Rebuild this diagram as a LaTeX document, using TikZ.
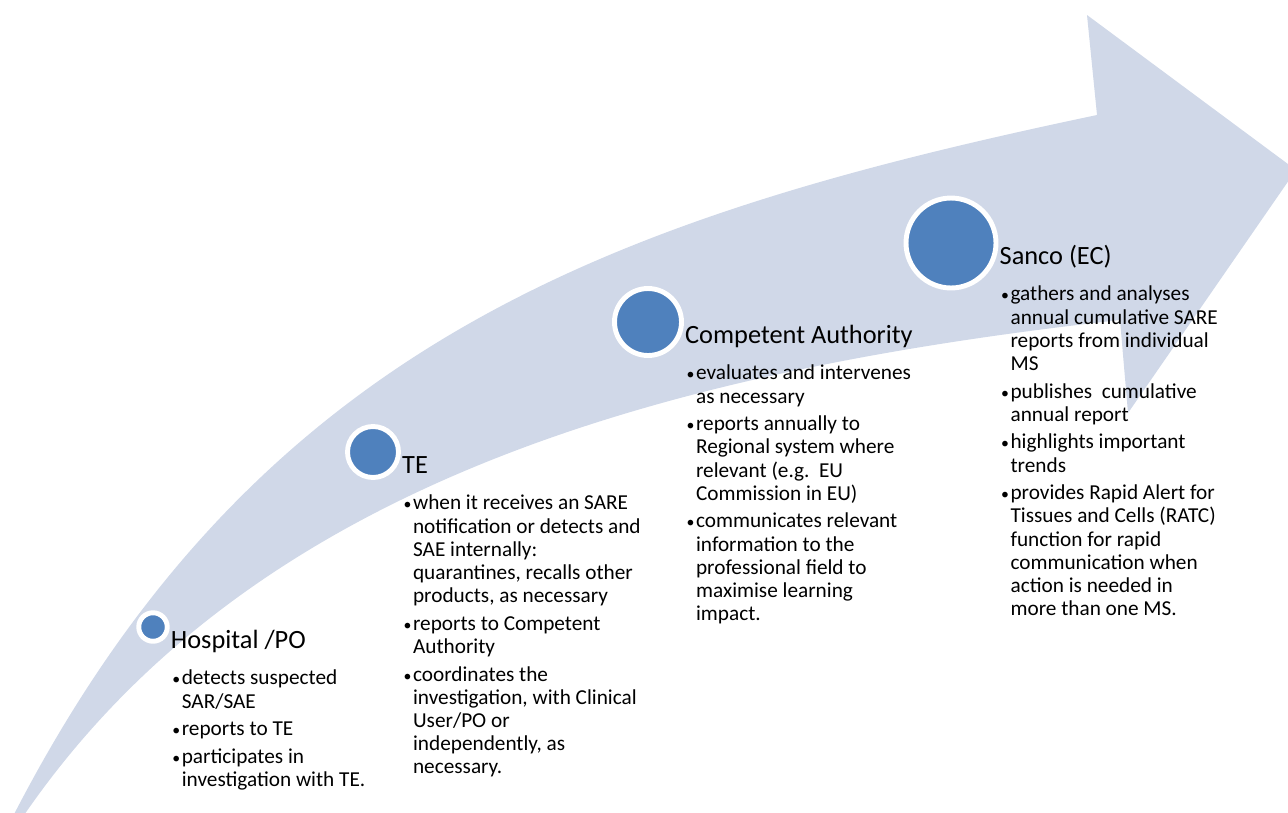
\documentclass[tikz,border=0pt]{standalone}
\usepackage{fontspec}
\setmainfont{Carlito}
\definecolor{arrowfill}{HTML}{D0D8E8}
\definecolor{dotfill}{HTML}{4F81BD}
\newcommand{\bul}{\makebox[5.7pt][l]{\hspace{0.3pt}\fontsize{9}{9}\selectfont\textbullet}}

\begin{document}
\begin{tikzpicture}[
    x=0.02cm, y=-0.02cm,
    dot/.style={circle, fill=dotfill, draw=white, line width=2.8pt, inner sep=0pt},
    stagetitle/.style={anchor=base west, inner sep=0pt, font=\fontsize{15}{18}\selectfont},
    stagetext/.style={anchor=base west, inner sep=0pt, font=\fontsize{12.1}{13.2}\selectfont}
]
    \useasboundingbox (0,0) rectangle (1288,812);

    % Curved arrow behind everything
    \begin{scope}
        \clip (0,0) rectangle (1288,812);
        \fill[arrowfill] (6,830) .. controls (250,345) and (607,218) .. (1097,115)
            -- (1087,15) -- (1296,170) -- (1128,413) -- (1120,320)
            .. controls (673,370) and (245,479) .. (14,830) -- cycle;
    \end{scope}

    % Stage dots
    \node[dot, minimum size=0.57cm] (hosp) at (153,627) {};
    \node[dot, minimum size=1.02cm] (te) at (373,452) {};
    \node[dot, minimum size=1.34cm] (ca) at (648,322) {};
    \node[dot, minimum size=1.8cm] (ec) at (951,243) {};

    % Stage names
    \node[stagetitle] (hospT) at ([xshift=0.5pt, yshift=-12.5pt]hosp.east) {Hospital /PO};
    \node[stagetitle] (teT) at ([xshift=0.5pt, yshift=-12.5pt]te.east) {TE};
    \node[stagetitle] (caT) at ([xshift=0.5pt, yshift=-12.5pt]ca.east) {Competent Authority};
    \node[stagetitle] (ecT) at ([xshift=0.5pt, yshift=-12.5pt]ec.east) {Sanco (EC)};

    % Tasks under each name
    \node[stagetext] (hospL) at ([xshift=0.5pt, yshift=-20.5pt]hospT.base west) {\begin{tabular}[t]{@{}l@{}l@{}}
        \bul & detects suspected\\ & SAR/SAE\\[2.5pt]
        \bul & reports to TE\\[2.5pt]
        \bul & participates in\\ & investigation with TE.
    \end{tabular}};
    \node[stagetext] (teL) at ([xshift=0.5pt, yshift=-20.5pt]teT.base west) {\begin{tabular}[t]{@{}l@{}l@{}}
        \bul & when it receives an SARE\\ & notification or detects and\\ & SAE internally:\\ & quarantines, recalls other\\ & products, as necessary\\[2.5pt]
        \bul & reports to Competent\\ & Authority\\[2.5pt]
        \bul & coordinates the\\ & investigation, with Clinical\\ & User/PO or\\ & independently, as\\ & necessary.
    \end{tabular}};
    \node[stagetext] (caL) at ([xshift=0.5pt, yshift=-20.5pt]caT.base west) {\begin{tabular}[t]{@{}l@{}l@{}}
        \bul & evaluates and intervenes\\ & as necessary\\[2.5pt]
        \bul & reports annually to\\ & Regional system where\\ & relevant (e.g.\ \ EU\\ & Commission in EU)\\[2.5pt]
        \bul & communicates relevant\\ & information to the\\ & professional field to\\ & maximise learning\\ & impact.
    \end{tabular}};
    \node[stagetext] (ecL) at ([xshift=0.5pt, yshift=-20.5pt]ecT.base west) {\begin{tabular}[t]{@{}l@{}l@{}}
        \bul & gathers and analyses\\ & annual cumulative SARE\\ & reports from individual\\ & MS\\[2.5pt]
        \bul & publishes\ \ cumulative\\ & annual report\\[2.5pt]
        \bul & highlights important\\ & trends\\[2.5pt]
        \bul & provides Rapid Alert for\\ & Tissues and Cells (RATC)\\ & function for rapid\\ & communication when\\ & action is needed in\\ & more than one MS.
    \end{tabular}};

\end{tikzpicture}
\end{document}
